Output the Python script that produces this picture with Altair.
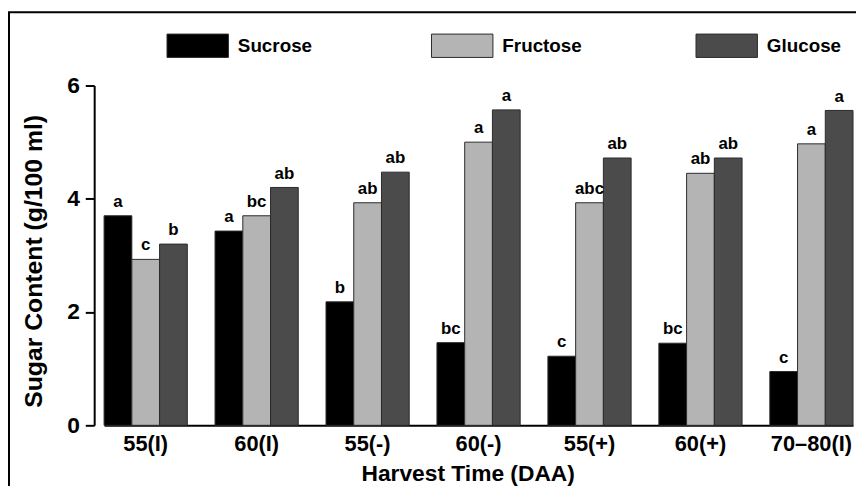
import altair as alt
import pandas as pd

categories = ["55(I)", "60(I)", "55(-)", "60(-)", "55(+)", "60(+)", "70–80(I)"]
sugars = ["Sucrose", "Fructose", "Glucose"]
sucrose = [3.70, 3.43, 2.18, 1.46, 1.22, 1.45, 0.95]
fructose = [2.93, 3.70, 3.93, 5.00, 3.93, 4.45, 4.97]
glucose = [3.20, 4.20, 4.47, 5.57, 4.72, 4.72, 5.56]
sucrose_letters = ["a", "a", "b", "bc", "c", "bc", "c"]
fructose_letters = ["c", "bc", "ab", "a", "abc", "ab", "a"]
glucose_letters = ["b", "ab", "ab", "a", "ab", "ab", "a"]
colors = ["#000000", "#b4b4b4", "#4b4b4b"]

rows = []
for i, c in enumerate(categories):
    for s, vals, lets in zip(sugars, [sucrose, fructose, glucose],
                             [sucrose_letters, fructose_letters, glucose_letters]):
        rows.append({"time": c, "sugar": s, "value": vals[i], "letter": lets[i]})
df = pd.DataFrame(rows)

FONT = "Liberation Sans"
W, H = 769, 343

x_enc = alt.X("time:N", sort=categories,
              scale=alt.Scale(range=[10, 766], paddingInner=0.25, paddingOuter=0),
              axis=alt.Axis(title="Harvest Time (DAA)", labelAngle=0, ticks=False,
                            labelFontSize=22, labelFontWeight="bold", labelPadding=8,
                            labelColor="black", titleFontSize=23, titleFontWeight="bold",
                            titleColor="black", titleX=377, titleY=56,
                            titleBaseline="alphabetic", titleAlign="center",
                            domainColor="black", domainWidth=2,
                            labelFont=FONT, titleFont=FONT))
xoff = alt.XOffset("sugar:N", sort=sugars, scale=alt.Scale(paddingInner=0, paddingOuter=0))
y_enc = alt.Y("value:Q", scale=alt.Scale(domain=[0, 6], nice=False),
              axis=alt.Axis(title="Sugar Content (g/100 ml)", values=[0, 2, 4, 6],
                            format="d", grid=False, tickSize=9, tickWidth=2,
                            tickColor="black", domainColor="black", domainWidth=2,
                            labelFontSize=23, labelFontWeight="bold", labelColor="black",
                            labelPadding=6, titleFontSize=25, titleFontWeight="bold",
                            titleColor="black", titleX=-61, titleY=177, titleAngle=-90,
                            titleAlign="center", titleBaseline="middle",
                            labelFont=FONT, titleFont=FONT))

base = alt.Chart(df)

bars = base.mark_bar(stroke="#2a2a2a", strokeWidth=1).encode(
    x=x_enc, xOffset=xoff, y=y_enc,
    color=alt.Color("sugar:N", sort=sugars,
                    scale=alt.Scale(domain=sugars, range=colors),
                    legend=alt.Legend(title=None, orient="none", direction="horizontal",
                                      legendX=73, legendY=-72, gridAlign="all",
                                      columnPadding=112, labelOffset=9,
                                      symbolType="M-1,-0.38H1V0.38H-1Z", symbolSize=3844,
                                      symbolStrokeColor="#2a2a2a", symbolStrokeWidth=1,
                                      symbolOpacity=1, labelFontSize=19,
                                      labelFontWeight="bold", labelColor="black",
                                      labelFont=FONT, padding=0)),
)

letters = base.mark_text(baseline="bottom", dy=-5, fontSize=17, fontWeight="bold",
                         font=FONT, color="black").encode(
    x=alt.X("time:N", sort=categories), xOffset=alt.XOffset("sugar:N", sort=sugars),
    y="value:Q", text="letter:N")

frame = alt.Chart(pd.DataFrame({"f": [0]})).mark_rect(
    filled=False, stroke="black", strokeWidth=2).encode(
    x=alt.value(-86), x2=alt.value(900), y=alt.value(-74), y2=alt.value(700))

chart = alt.layer(bars, letters, frame).properties(
    width=W, height=H,
    autosize=alt.AutoSizeParams(type="none"),
    padding={"left": 87, "top": 76, "right": 0, "bottom": 59},
).configure_view(stroke="transparent")

chart.save("out.html", embed_options={"renderer": "svg", "actions": False})
